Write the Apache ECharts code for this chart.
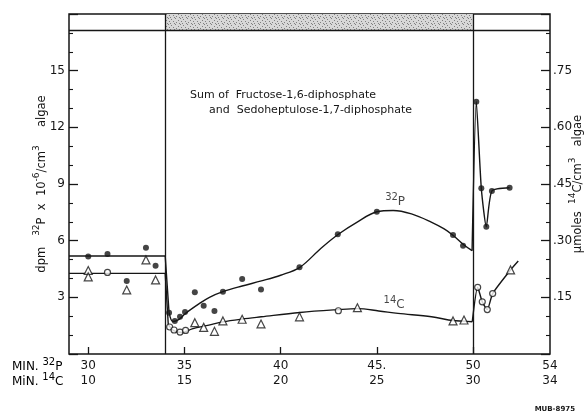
<!DOCTYPE html>
<html>
<head>
<meta charset="utf-8">
<script src="https://cdn.jsdelivr.net/npm/echarts@6/dist/echarts.min.js"></script>
<style>
  html, body { margin: 0; padding: 0; background: #fff; }
  #chart { width: 585px; height: 419px; }
</style>
</head>
<body>
<div id="chart"></div>
<script>
// Time axis: minutes of 32P labelling; the 14C clock runs 20 minutes behind.
const xTickPos = [30, 35, 40, 45, 50, 54];
const xLabels32P = ['30', '35', '40', '45.', '50', '54'];
const xLabels14C = ['10', '15', '20', '25', '30', '34'];

// Left scale: dpm 32P x 10^-6 per cm3 algae; right scale: umoles 14C per cm3 algae.
const leftTicks = [3, 6, 9, 12, 15];
const rightTicks = [0.15, 0.30, 0.45, 0.60, 0.75];

// Measured 32P points (filled circles).
const p32Time  = [30, 31, 32, 33, 33.5, 34.2, 34.5, 34.77, 35.03, 35.54, 36.0, 36.56, 37.0, 38.0, 38.98, 40.98, 42.97, 45.0, 48.96, 49.48, 50.17, 50.43, 50.69, 50.98, 51.9];
const p32Value = [5.16, 5.29, 3.86, 5.63, 4.67, 2.19, 1.75, 1.97, 2.22, 3.27, 2.56, 2.28, 3.30, 3.97, 3.42, 4.59, 6.34, 7.53, 6.30, 5.73, 13.36, 8.77, 6.74, 8.63, 8.80];

// Measured 14C points (open triangles and open circles).
const c14Time  = [30, 30, 31, 32, 33, 33.5, 34.23, 34.46, 34.77, 35.06, 35.54, 36.0, 36.56, 37.0, 38.0, 38.98, 40.98, 43.0, 43.99, 48.96, 49.53, 50.24, 50.48, 50.74, 51.02, 51.95];
const c14Value = [4.42, 4.08, 4.32, 3.39, 4.98, 3.92, 1.43, 1.27, 1.16, 1.25, 1.66, 1.41, 1.20, 1.75, 1.84, 1.59, 1.97, 2.29, 2.45, 1.75, 1.80, 3.53, 2.76, 2.35, 3.20, 4.45];
const c14Shape = ['triangle', 'triangle', 'circle', 'triangle', 'triangle', 'triangle', 'circle', 'circle', 'circle', 'circle', 'triangle', 'triangle', 'triangle', 'triangle', 'triangle', 'triangle', 'triangle', 'circle', 'triangle', 'triangle', 'triangle', 'circle', 'circle', 'circle', 'circle', 'triangle'];

// Drawn curves for 32P: steady state, drop after light-off, recovery, and the final pulse.
const p32StepTime   = [29, 34.0, 34.2];
const p32StepValue  = [5.19, 5.19, 2.2];
const p32CurveTime  = [34.2, 34.4, 34.7, 35.06, 35.75, 36.3, 37, 38, 39, 40, 41, 42.1, 43, 44, 45, 45.85, 46.8, 47.8, 48.5, 49, 49.5, 49.95];
const p32CurveValue = [2.2, 1.72, 1.82, 2.15, 2.65, 3.0, 3.3, 3.6, 3.87, 4.17, 4.59, 5.6, 6.34, 7.0, 7.53, 7.6, 7.42, 7.0, 6.62, 6.25, 5.8, 5.47];
const p32PulseTime  = [49.95, 50.17, 50.43, 50.69, 50.98, 51.9];
const p32PulseValue = [5.47, 13.36, 8.77, 6.74, 8.63, 8.80];

// Drawn curves for 14C.
const c14StepTime   = [29, 34.0, 34.16];
const c14StepValue  = [4.27, 4.27, 1.55];
const c14CurveTime  = [34.16, 34.46, 34.89, 35.4, 36.27, 37, 38, 39, 41, 43, 44, 45.1, 46.1, 47.84, 48.96, 49.5, 49.96];
const c14CurveValue = [1.55, 1.22, 1.14, 1.33, 1.53, 1.7, 1.85, 1.97, 2.2, 2.35, 2.4, 2.28, 2.15, 1.97, 1.77, 1.74, 1.71];
const c14PulseTime  = [49.96, 50.24, 50.48, 50.74, 51.02, 51.95, 52.35];
const c14PulseValue = [1.71, 3.53, 2.76, 2.35, 3.20, 4.45, 4.92];

// Light period markers and the top status strip.
const periodEdges = [34, 50];
const stripBottom = 17.15;

const INK = '#161616';
const FONT = 'DejaVu Sans';

function zip(xs, ys) { return xs.map((x, i) => [x, ys[i]]); }

// Stippled fill for the strip over the dark period.
function stipple() {
  const c = document.createElement('canvas');
  c.width = 12; c.height = 6;
  const g = c.getContext('2d');
  g.fillStyle = '#d8d8d8';
  g.fillRect(0, 0, 12, 6);
  g.fillStyle = '#808080';
  [[0,0],[3,1],[7,0],[10,2],[1,3],[5,3],[8,4],[11,5],[2,5],[6,5]]
    .forEach(([x, y]) => g.fillRect(x, y, 1, 1));
  return c;
}

const supRich = {
  m: { fontFamily: FONT, fontSize: 11.5, color: INK, lineHeight: 16, verticalAlign: 'bottom' },
  s: { fontFamily: FONT, fontSize: 9, color: INK, verticalAlign: 'top' }
};
const bigRich = {
  m: { fontFamily: FONT, fontSize: 12, color: INK, lineHeight: 16, verticalAlign: 'bottom' },
  s: { fontFamily: FONT, fontSize: 10, color: INK, verticalAlign: 'top' }
};

const lineStyle = { color: INK, width: 1.4 };

const chart = echarts.init(document.getElementById('chart'), null, { renderer: 'canvas' });

chart.setOption({
  animation: false,
  backgroundColor: '#fff',
  grid: {
    left: 69, right: 35, top: 14, bottom: 65,
    outerBoundsMode: 'none', containLabel: false,
    show: true, borderColor: INK, borderWidth: 1.5, backgroundColor: 'transparent'
  },
  xAxis: {
    type: 'value', min: 29, max: 54,
    axisLine: { show: false },
    splitLine: { show: false },
    axisTick: { inside: true, length: 7, lineStyle: { color: INK, width: 1.3 }, customValues: xTickPos.slice(0, 5) },
    axisLabel: {
      customValues: xTickPos,
      margin: 4,
      formatter: v => {
        const i = xTickPos.indexOf(v);
        return '{a|' + xLabels32P[i] + '}\n{a|' + xLabels14C[i] + '}';
      },
      rich: { a: { fontFamily: FONT, fontSize: 12, color: INK, lineHeight: 15 } }
    }
  },
  yAxis: [
    {
      type: 'value', min: 0, max: 18, interval: 3, position: 'left',
      axisLine: { show: false },
      splitLine: { show: false },
      axisTick: { inside: true, length: 9, lineStyle: { color: INK, width: 1.3 } },
      minorTick: { show: true, splitNumber: 3, length: 4, lineStyle: { color: INK, width: 1.1 } },
      axisLabel: {
        margin: 4, fontFamily: FONT, fontSize: 12, color: INK,
        formatter: v => leftTicks.includes(v) ? String(v) : ''
      },
      name: '{m|dpm   }{s|32}{m|P  x  10}{s|-6}{m|/cm}{s|3}{m|     algae}',
      nameLocation: 'middle', nameRotate: 90, nameGap: 21, nameMoveOverlap: false,
      nameTextStyle: { rich: supRich }
    },
    {
      type: 'value', min: 0, max: 0.9, interval: 0.15, position: 'right',
      axisLine: { show: false },
      splitLine: { show: false },
      axisTick: { inside: true, length: 9, lineStyle: { color: INK, width: 1.3 } },
      minorTick: { show: true, splitNumber: 3, length: 4, lineStyle: { color: INK, width: 1.1 } },
      axisLabel: {
        margin: 3, fontFamily: FONT, fontSize: 12, color: INK,
        formatter: v => {
          const hit = rightTicks.find(t => Math.abs(t - v) < 1e-6);
          return hit === undefined ? '' : hit.toFixed(2).replace(/^0/, '');
        }
      },
      name: '{m|µmoles  }{s|14}{m|C/cm}{s|3}{m|   algae}',
      nameLocation: 'middle', nameRotate: 90, nameGap: 18, nameMoveOverlap: false,
      nameTextStyle: { rich: supRich }
    }
  ],
  series: [
    {
      type: 'line', data: zip(p32StepTime, p32StepValue), showSymbol: false, lineStyle, z: 3,
      markLine: {
        silent: true, symbol: ['none', 'none'], label: { show: false },
        lineStyle: { color: INK, type: 'solid', width: 1.3 },
        data: periodEdges.map(x => ({ xAxis: x })).concat([{ yAxis: stripBottom }])
      },
      markArea: {
        silent: true,
        itemStyle: { color: { image: stipple(), repeat: 'repeat' } },
        data: [[{ xAxis: periodEdges[0], yAxis: stripBottom }, { xAxis: periodEdges[1], yAxis: 18 }]]
      }
    },
    { type: 'line', data: zip(p32CurveTime, p32CurveValue), smooth: 0.35, showSymbol: false, lineStyle, z: 3 },
    { type: 'line', data: zip(p32PulseTime, p32PulseValue), smooth: 0.2, showSymbol: false, lineStyle, z: 3 },
    { type: 'line', data: zip(c14StepTime, c14StepValue), showSymbol: false, lineStyle, z: 3 },
    { type: 'line', data: zip(c14CurveTime, c14CurveValue), smooth: 0.35, showSymbol: false, lineStyle, z: 3 },
    { type: 'line', data: zip(c14PulseTime, c14PulseValue), smooth: 0.2, showSymbol: false, lineStyle, z: 3 },
    {
      name: '32P', type: 'scatter', z: 5,
      data: zip(p32Time, p32Value),
      symbol: 'circle', symbolSize: 6,
      itemStyle: { color: INK }
    },
    {
      name: '14C', type: 'scatter', z: 5,
      data: c14Time.map((t, i) => ({
        value: [t, c14Value[i]],
        symbol: c14Shape[i],
        symbolSize: c14Shape[i] === 'triangle' ? 8 : 6
      })),
      itemStyle: { color: '#fff', borderColor: INK, borderWidth: 1.2 }
    },
    {
      // curve names written beside the lines
      type: 'scatter', z: 6, symbolSize: 0, silent: true,
      data: [
        { value: [45.95, 8.15], label: { formatter: '{s|32}{m|P}' } },
        { value: [45.9, 2.7], label: { formatter: '{s|14}{m|C}' } }
      ],
      label: { show: true, position: 'inside', rich: bigRich }
    }
  ],
  graphic: [
    {
      type: 'text', left: 190, top: 90,
      style: { text: 'Sum of  Fructose-1,6-diphosphate', font: '11px "DejaVu Sans"', fill: INK }
    },
    {
      type: 'text', left: 209, top: 105,
      style: { text: 'and  Sedoheptulose-1,7-diphosphate', font: '11px "DejaVu Sans"', fill: INK }
    },
    {
      type: 'text', left: 12, top: 357,
      style: { text: '{m|MIN. }{s|32}{m|P}', rich: bigRich }
    },
    {
      type: 'text', left: 12, top: 372,
      style: { text: '{m|MiN. }{s|14}{m|C}', rich: bigRich }
    },
    {
      type: 'text', right: 10, top: 406,
      style: { text: 'MUB-8975', font: 'bold 7px "DejaVu Sans"', fill: INK }
    }
  ]
});
</script>
</body>
</html>
